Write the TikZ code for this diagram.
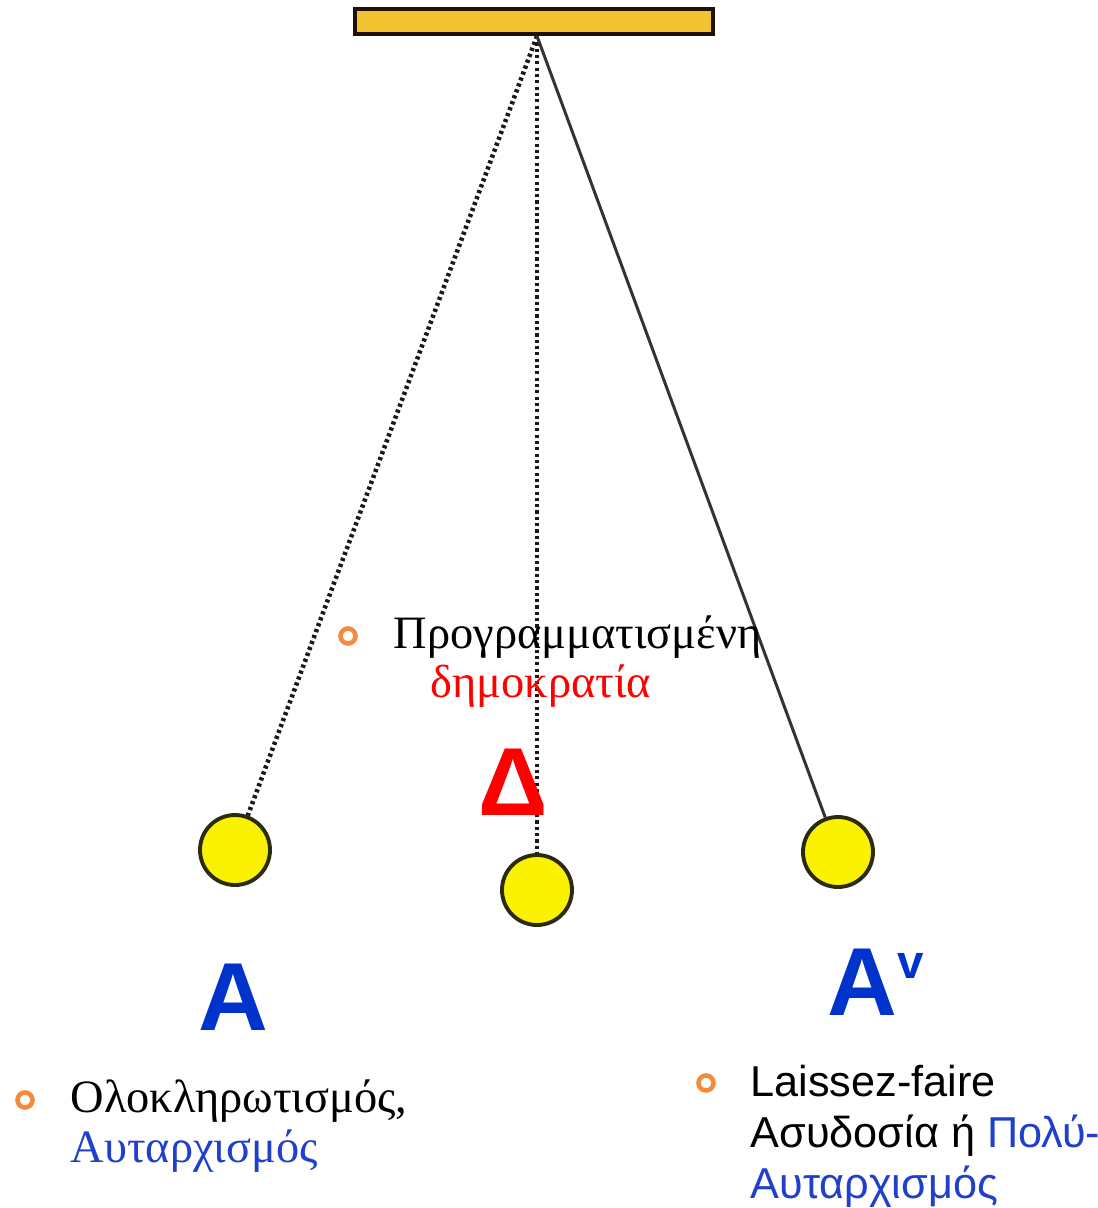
\documentclass[tikz,border=0pt]{standalone}
\usepackage{fontspec}
\setmainfont{Liberation Serif}
\setsansfont{Liberation Sans}
\definecolor{barfill}{HTML}{F2C230}
\definecolor{bardraw}{HTML}{201008}
\definecolor{ballfill}{HTML}{FAF200}
\definecolor{balldraw}{HTML}{2B2B10}
\definecolor{ringorange}{HTML}{F58A3A}
\definecolor{textblue}{HTML}{1F3FCC}
\definecolor{bigblue}{HTML}{0033CC}
\tikzset{
  ball/.style={circle, draw=balldraw, line width=1.1pt, fill=ballfill, minimum size=0.7cm, inner sep=0pt},
  ring/.style={circle, draw=ringorange, line width=1.3pt, minimum size=0.15cm, inner sep=0pt},
  serifline/.style={anchor=base west, inner sep=0pt, font=\fontsize{13.2}{14.2}\selectfont},
  sansline/.style={anchor=base west, inner sep=0pt, font=\sffamily\fontsize{12.3}{14.5}\selectfont},
  bigletter/.style={inner sep=0pt, font=\sffamily\bfseries\fontsize{27.5}{30}\selectfont},
  string/.style={line width=1.3pt, dash pattern=on 0.9pt off 0.9pt, black!90}
}
\begin{document}
\begin{tikzpicture}
    \useasboundingbox (0,0) rectangle (10.98,-12.08);

    % Soporte del péndulo
    \filldraw[fill=barfill, draw=bardraw, line width=1pt] (3.55,-0.09) rectangle (7.13,-0.34);
    \coordinate (pivot) at (5.37,-0.36);

    % Bolas
    \foreach \n/\x/\y in {ballA/2.35/-8.50, ballD/5.37/-8.90, ballAv/8.38/-8.52} {
        \node[ball] (\n) at (\x,\y) {};
    }

    % Hilos
    \draw[string] (pivot) -- (ballA);
    \draw[string] (pivot) -- (ballD);
    \draw[line width=0.85pt, black!80] (pivot) -- (ballAv);

    % Etiquetas grandes
    \node[bigletter, red, anchor=base] (delta) at (5.13,-8.15) {Δ};
    \node[bigletter, bigblue, anchor=base] (alpha) at (2.33,-10.30) {A};
    \node[bigletter, bigblue, anchor=base west] (alphav) at (8.27,-10.15)
        {A\raisebox{10.5pt}{\fontsize{13.5}{14}\selectfont v}};

    % Texto central
    \node[ring] (ringD) at (3.48,-6.36) {};
    \node[serifline] (progA) at (3.93,-6.48) {Προγραμματισμένη};
    \node[serifline, red] (progB) at (4.30,-6.97) {δημοκρατία};

    % Texto izquierdo
    \node[ring] (ringA) at (0.25,-11.00) {};
    \node[serifline] (totA) at (0.70,-11.12) {Ολοκληρωτισμός,};
    \node[serifline, textblue] (totB) at (0.70,-11.62) {Αυταρχισμός};

    % Texto derecho
    \node[ring] (ringAv) at (7.06,-10.83) {};
    \node[sansline] (laisA) at (7.50,-10.96) {Laissez-faire};
    \node[sansline] (laisB) at (7.50,-11.47) {Ασυδοσία ή \textcolor{textblue}{Πολύ-}};
    \node[sansline, textblue] (laisC) at (7.50,-11.98) {Αυταρχισμός};
\end{tikzpicture}
\end{document}
